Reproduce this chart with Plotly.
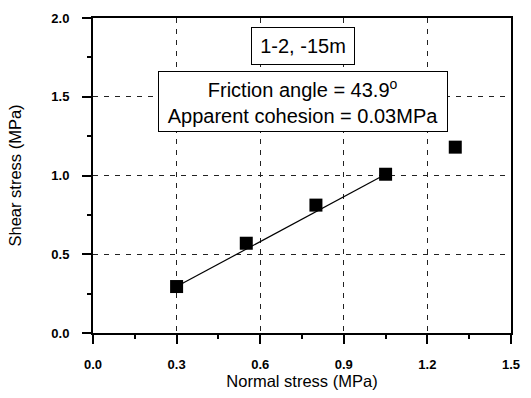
import plotly.graph_objects as go

# Data
normal_stress = [0.30, 0.55, 0.80, 1.05, 1.30]
shear_stress = [0.295, 0.570, 0.812, 1.008, 1.180]
fit_x = [0.30, 1.05]
fit_y = [0.295, 1.008]
x_ticks = [0.0, 0.3, 0.6, 0.9, 1.2, 1.5]
x_tick_labels = ["0.0", "0.3", "0.6", "0.9", "1.2", "1.5"]
y_ticks = [0.0, 0.5, 1.0, 1.5, 2.0]
y_tick_labels = ["0.0", "0.5", "1.0", "1.5", "2.0"]
sample_label = "1-2, -15m"
result_label = "Friction angle = 43.9<sup>o</sup><br>Apparent cohesion = 0.03MPa"

FONT = "Liberation Sans, Arial, sans-serif"

fig = go.Figure()
fig.add_trace(go.Scatter(x=fit_x, y=fit_y, mode="lines",
                         line=dict(color="black", width=1.2), showlegend=False))
fig.add_trace(go.Scatter(x=normal_stress, y=shear_stress, mode="markers",
                         marker=dict(symbol="square", size=13, color="black"),
                         showlegend=False))

axis_common = dict(
    showline=True, linecolor="black", linewidth=2, mirror=True,
    showgrid=True, gridcolor="#222222", gridwidth=1, griddash="5px,6px",
    zeroline=False, ticks="outside", tickcolor="black", tickwidth=1.5,
    tickfont=dict(family=FONT, size=13, color="black", weight="bold"),
)

fig.update_xaxes(
    range=[0, 1.5], tickvals=x_ticks, ticktext=x_tick_labels, ticklen=9,
    ticklabelstandoff=9,
    minor=dict(dtick=0.15, ticks="outside", ticklen=4, tickcolor="black", showgrid=False),
    title=dict(text="Normal stress (MPa)", font=dict(family=FONT, size=16.5, color="black"),
               standoff=4),
    **axis_common,
)
fig.update_yaxes(
    range=[0, 2.0], tickvals=y_ticks, ticktext=y_tick_labels, ticklen=9,
    ticklabelstandoff=10,
    minor=dict(dtick=0.25, ticks="outside", ticklen=4, tickcolor="black", showgrid=False),
    title=dict(text="Shear stress (MPa)", font=dict(family=FONT, size=16.5, color="black"),
               standoff=26),
    **axis_common,
)

fig.add_annotation(x=0.755, y=1.821, xref="x", yref="y", text=sample_label,
                   showarrow=False, font=dict(family=FONT, size=20, color="black"),
                   bgcolor="white", bordercolor="black", borderwidth=1,
                   width=100, height=34)
fig.add_annotation(x=0.755, y=1.472, xref="x", yref="y", text=result_label,
                   showarrow=False, font=dict(family=FONT, size=20, color="black"),
                   bgcolor="white", bordercolor="black", borderwidth=1,
                   width=286, height=57)

fig.update_layout(
    width=531, height=398,
    margin=dict(l=93, r=11, t=12, b=62),
    plot_bgcolor="white", paper_bgcolor="white",
)

fig.write_html("out.html")
